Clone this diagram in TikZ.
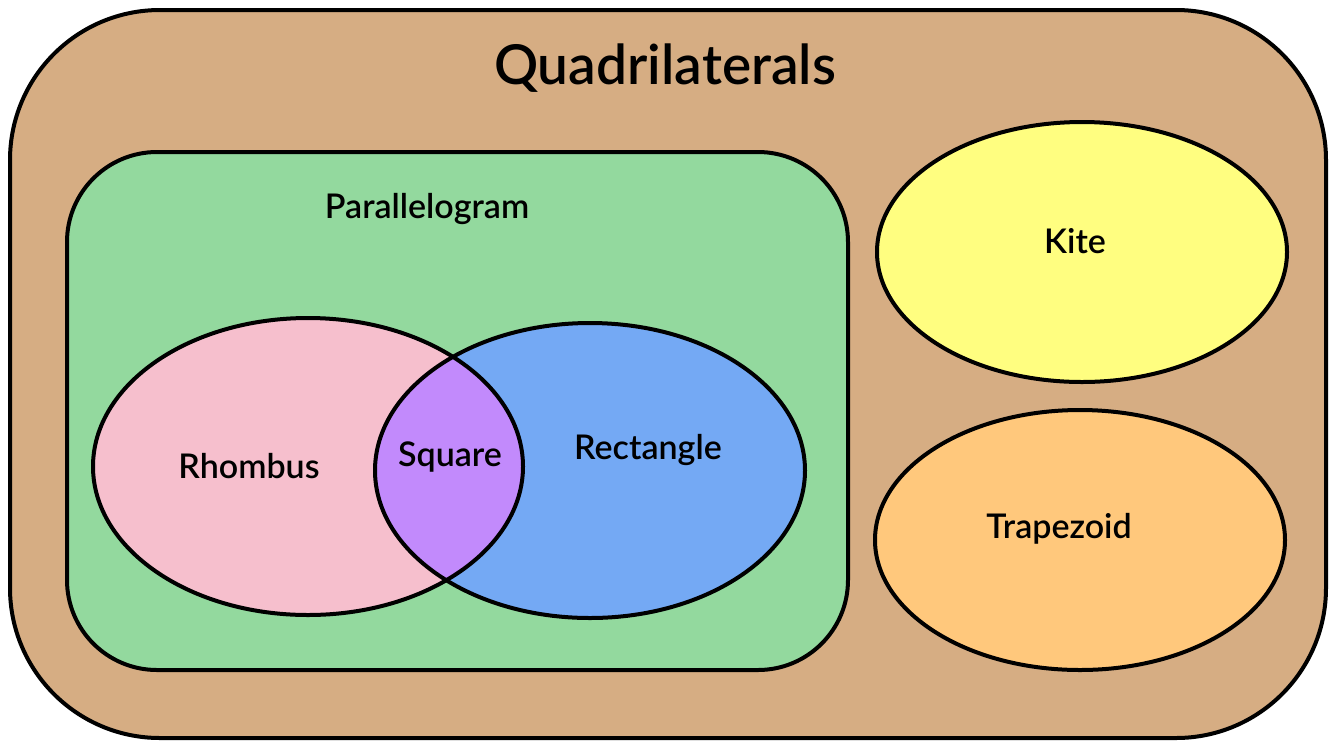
\documentclass[tikz,border=0pt]{standalone}
\usepackage{fontspec}
\setmainfont{Lato Semibold}
\usetikzlibrary{shapes.geometric}

\definecolor{quadbrown}{RGB}{214,173,131}
\definecolor{paragreen}{RGB}{147,217,158}
\definecolor{rhombpink}{RGB}{246,191,205}
\definecolor{rectblue}{RGB}{116,169,244}
\definecolor{sqpurple}{RGB}{194,138,252}
\definecolor{kiteyellow}{RGB}{255,254,128}
\definecolor{traporange}{RGB}{255,200,124}

\begin{document}
\begin{tikzpicture}[x=0.5pt, y=-0.5pt,
  region/.style={draw=black, line width=2pt},
  oval/.style={ellipse, inner sep=0pt},
  ovalline/.style={draw=black, line width=2pt},
  lbl/.style={font=\fontsize{17}{20}\selectfont},
  title/.style={font=\fontsize{27.5}{32}\selectfont}]
  \useasboundingbox (0,0) rectangle (1334,741);

  % Regions
  \draw[region, fill=quadbrown, rounded corners=75pt] (10,10) rectangle (1326,738);
  \draw[region, fill=paragreen, rounded corners=45pt] (67,152) rectangle (848,670);

  % Rhombus and rectangle sets
  \node[oval, fill=rhombpink, minimum width=215pt, minimum height=148.5pt] (rhombus) at (308,466.5) {};
  \node[oval, fill=rectblue, minimum width=215pt, minimum height=147.5pt] (rect) at (590,470.5) {};
  \begin{scope}
    \clip (rhombus.center) ellipse [x radius=107.5pt, y radius=74.25pt];
    \fill[sqpurple] (rect.center) ellipse [x radius=107.5pt, y radius=73.75pt];
  \end{scope}
  \draw[ovalline] (rhombus.center) ellipse [x radius=107.5pt, y radius=74.25pt];
  \draw[ovalline] (rect.center) ellipse [x radius=107.5pt, y radius=73.75pt];

  % Kite and trapezoid
  \node[oval, ovalline, fill=kiteyellow, minimum width=205pt, minimum height=130pt] (kite) at (1082,252) {};
  \node[oval, ovalline, fill=traporange, minimum width=205pt, minimum height=130pt] (trap) at (1080,540) {};

  % Labels
  \node[title] (quadlbl) at (665,68) {Quadrilaterals};
  \node[lbl] (paralbl) at (427,209) {Parallelogram};
  \node[lbl] (rhomblbl) at (249,466) {Rhombus};
  \node[lbl] (sqlbl) at (450,457) {Square};
  \node[lbl] (rectlbl) at (648,450) {Rectangle};
  \node[lbl] (kitelbl) at (1075,241) {Kite};
  \node[lbl] (traplbl) at (1059,529) {Trapezoid};
\end{tikzpicture}
\end{document}
